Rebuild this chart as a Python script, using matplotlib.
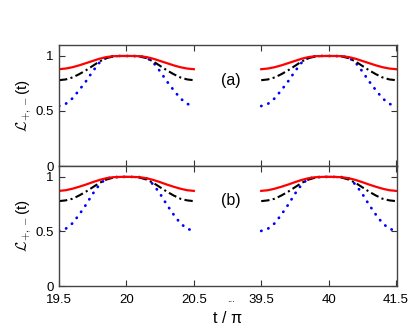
import numpy as np
import matplotlib
matplotlib.use("Agg")
import matplotlib.pyplot as plt

plt.rcParams['font.family'] = ['Liberation Sans', 'DejaVu Sans']
plt.rcParams['mathtext.fontset'] = 'cm'

# distance from the peak, in units of pi (curves are symmetric about the peak)
d = [0.0, 0.05, 0.1, 0.15, 0.2, 0.25, 0.3, 0.35, 0.4, 0.45, 0.5]

# panel (a)
red_a = [1.0, 1.0, 0.998, 0.99, 0.975, 0.955, 0.935, 0.915, 0.898, 0.886, 0.88]
black_a = [1.0, 1.0, 0.995, 0.98, 0.95, 0.91, 0.87, 0.835, 0.805, 0.787, 0.78]
blue_a = [1.0, 1.0, 0.998, 0.985, 0.94, 0.86, 0.77, 0.69, 0.615, 0.565, 0.545]

# panel (b)
red_b = [1.0, 1.0, 0.997, 0.988, 0.972, 0.952, 0.93, 0.91, 0.892, 0.878, 0.872]
black_b = [1.0, 1.0, 0.993, 0.975, 0.945, 0.905, 0.865, 0.83, 0.8, 0.785, 0.778]
blue_b = [1.0, 1.0, 0.998, 0.985, 0.93, 0.845, 0.745, 0.655, 0.575, 0.525, 0.505]

peaks = [20, 40]
xtick_labels = ['19.5', '20', '20.5', '39.5', '40', '41.5']


def full(vals):
    v = np.array(vals)
    return np.concatenate([v[::-1], v[1:]])


dd = np.array(d)
t_rel = np.concatenate([-dd[::-1], dd[1:]])  # -0.5 .. 0.5

fig = plt.figure(figsize=(4.15, 3.33), dpi=100)
ax_a = fig.add_axes([0.1422, 0.5015, 0.8145, 0.3634])
ax_b = fig.add_axes([0.1422, 0.1411, 0.8145, 0.3604])

panels = [(ax_a, red_a, black_a, blue_a, '(a)'),
          (ax_b, red_b, black_b, blue_b, '(b)')]

for ax, r, k, b, lab in panels:
    for i, p in enumerate(peaks):
        # each segment of width 1 (in t/pi) takes 2 axis units, second one shifted by 3
        pos = 3 * i + 2 * (t_rel + 0.5)
        ax.plot(pos, full(b), color='blue', ls=(0, (0.1, 2.6)), lw=2.0,
                dash_capstyle='round')
        ax.plot(pos, full(k), color='black', ls=(0, (4, 1.6, 1, 1.6)), lw=1.5)
        ax.plot(pos, full(r), color='red', ls='-', lw=1.6)
    ax.set_xlim(0, 5.015)
    ax.set_ylim(0, 1.1)
    ax.set_yticks([0, 0.5, 1])
    ax.set_yticklabels(['0', '0.5', '1'])
    ax.set_xticks([0, 1, 2, 3, 4, 5])
    ax.tick_params(direction='in', top=True, right=True, length=4, labelsize=9.5,
                   color='#333333')
    ax.tick_params(axis='y', pad=4)
    ax.tick_params(axis='x', pad=6)
    for s in ax.spines.values():
        s.set_color('#444444')
        s.set_linewidth(1.0)
    ax.set_ylabel(r'$\mathcal{L}_{+,-}$(t)', fontsize=11, labelpad=1)
    ax.text(2.55, 0.78, lab, fontsize=11.5, ha='center', va='center')

ax_a.set_xticklabels([])
ax_b.set_xticklabels(xtick_labels)
ax_b.annotate('...', xy=(2.55, 0), xycoords=('data', 'axes fraction'),
              xytext=(0, -6), textcoords='offset points',
              fontsize=7, ha='center', va='top')
ax_b.set_xlabel('t / π', fontsize=11.5, labelpad=3)

fig.savefig('out.png', dpi=100)
